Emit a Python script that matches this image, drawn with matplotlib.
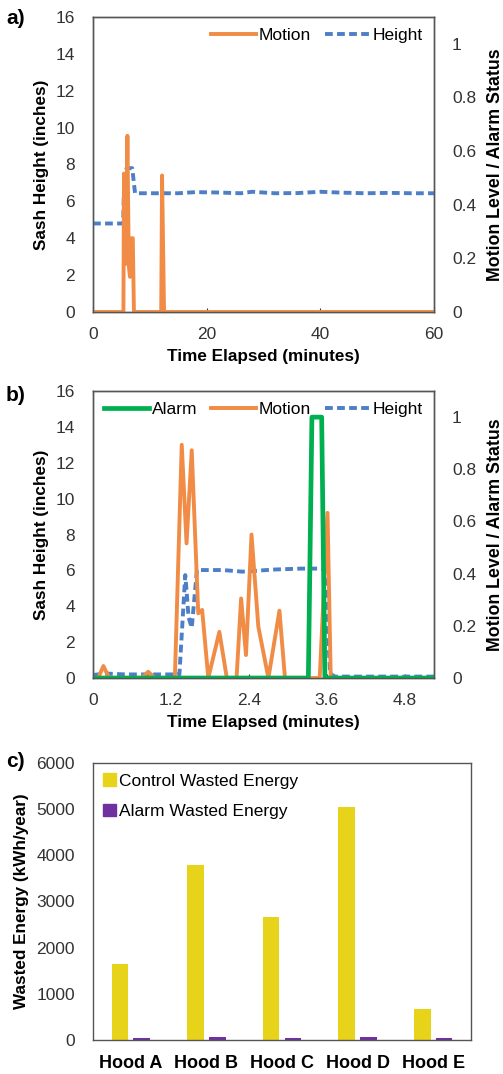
import matplotlib.pyplot as plt
from matplotlib.patches import Patch

plt.rcParams['font.family'] = ['Liberation Sans', 'DejaVu Sans']

# panel a - 60 minute record
height_a_t = [0, 5.3, 5.5, 5.9, 6.9, 7.4, 10, 15, 18, 22, 26, 28, 32, 36, 40, 44, 48, 52, 56, 60]
height_a_v = [4.8, 4.8, 7.3, 7.8, 7.8, 6.44, 6.44, 6.44, 6.5, 6.48, 6.44, 6.52, 6.44, 6.45, 6.52, 6.47, 6.44, 6.46, 6.44, 6.44]
motion_a_t = [0, 5.35, 5.45, 5.8, 6.05, 6.3, 6.5, 6.75, 7.0, 7.2, 12.0, 12.15, 12.5, 60]
motion_a_v = [0, 0, 0.516, 0.18, 0.657, 0.172, 0.131, 0.275, 0.275, 0, 0, 0.509, 0, 0]

# panel b - 5 minute record
height_b_t = [0, 0.2, 0.5, 1.0, 1.3, 1.33, 1.42, 1.44, 1.47, 1.52, 1.6, 2.0, 2.3, 2.8, 3.2, 3.5, 3.57, 3.65, 3.72, 5.25]
height_b_v = [0.17, 0.25, 0.2, 0.2, 0.2, 0.2, 5.74, 4.9, 3.4, 2.8, 6.02, 6.02, 5.93, 6.05, 6.1, 6.1, 6.05, 0.26, 0.08, 0.08]
motion_b_t = [0, 0.08, 0.16, 0.25, 0.75, 0.85, 0.95, 1.26, 1.366, 1.44, 1.52, 1.62, 1.68, 1.775, 1.945, 2.06, 2.21,
              2.28, 2.355, 2.44, 2.545, 2.70, 2.87, 2.955, 3.49, 3.61, 3.66, 5.25]
motion_b_v = [0, 0, 0.046, 0, 0, 0.024, 0, 0, 0.894, 0.516, 0.873, 0.248, 0.261, 0, 0.177, 0, 0,
              0.305, 0.088, 0.55, 0.197, 0, 0.258, 0, 0, 0.633, 0, 0]
alarm_b_t = [0, 3.315, 3.37, 3.52, 3.57, 5.25]
alarm_b_v = [0, 0, 1, 1, 0, 0]

# panel c - wasted energy
hoods = ['Hood A', 'Hood B', 'Hood C', 'Hood D', 'Hood E']
control_energy = [1650, 3790, 2660, 5050, 660]
alarm_energy = [45, 70, 45, 70, 48]

ORANGE = '#F08C45'
BLUE = '#4E7FC6'
GREEN = '#00B050'
YELLOW = '#E8D31B'
PURPLE = '#7030A0'
FRAME = '#555555'
TICK = '#333333'

fig = plt.figure(figsize=(5.03, 10.74), dpi=100)

def style_frame(ax):
    for s in ax.spines.values():
        s.set_color(FRAME)
        s.set_linewidth(1.0)

def line_panel(rect, xmax, xticks, xticklabels):
    ax = fig.add_axes(rect)
    ax2 = ax.twinx()
    ax.set_xlim(0, xmax)
    ax.set_ylim(0, 16)
    ax.set_yticks(range(0, 17, 2))
    ax.set_xticks(xticks)
    ax.set_xticklabels(xticklabels)
    ax2.set_ylim(0, 1.1)
    ax2.set_yticks([0, 0.2, 0.4, 0.6, 0.8, 1.0])
    ax2.set_yticklabels(['0', '0.2', '0.4', '0.6', '0.8', '1'])
    ax.tick_params(axis='y', length=0, labelsize=12.5, colors=TICK, pad=13)
    ax.tick_params(axis='x', length=3, direction='in', labelsize=12.5, colors=TICK, pad=11)
    ax2.tick_params(axis='y', length=0, labelsize=12.5, colors=TICK, pad=13)
    ax.set_ylabel('Sash Height (inches)', fontsize=12.3, fontweight='bold', labelpad=5)
    ax2.set_ylabel('Motion Level / Alarm Status', fontsize=12.8, fontweight='bold', labelpad=8)
    ax.set_xlabel('Time Elapsed (minutes)', fontsize=12.3, fontweight='bold', labelpad=5)
    style_frame(ax)
    style_frame(ax2)
    return ax, ax2

# a)
ax, ax2 = line_panel([0.1849, 0.7095, 0.678, 0.2747], 60, [0, 20, 40, 60], ['0', '20', '40', '60'])
h1, = ax.plot(height_a_t, height_a_v, color=BLUE, lw=2.8, ls=(0, (2.0, 1.1)), zorder=3)
m1, = ax2.plot(motion_a_t, motion_a_v, color=ORANGE, lw=2.8, zorder=2)
ax2.legend([m1, h1], ['Motion', 'Height'], loc='upper right', ncol=2, frameon=False,
           fontsize=12.5, handlelength=2.6, handletextpad=0.15, columnspacing=0.8,
           borderaxespad=0.25)
fig.text(0.012, 0.983, 'a)', fontsize=15, fontweight='bold', va='center')

# b)
ax, ax2 = line_panel([0.1849, 0.3687, 0.678, 0.2672], 5.25, [0, 1.2, 2.4, 3.6, 4.8],
                     ['0', '1.2', '2.4', '3.6', '4.8'])
h2, = ax.plot(height_b_t, height_b_v, color=BLUE, lw=2.8, ls=(0, (2.0, 1.1)), zorder=3)
m2, = ax2.plot(motion_b_t, motion_b_v, color=ORANGE, lw=2.8, zorder=2)
a2, = ax2.plot(alarm_b_t, alarm_b_v, color=GREEN, lw=3.4, zorder=2)
ax2.legend([a2, m2, h2], ['Alarm', 'Motion', 'Height'], loc='upper center', ncol=3, frameon=False,
           fontsize=12.5, handlelength=2.6, handletextpad=0.15, columnspacing=0.8,
           borderaxespad=0.25)
fig.text(0.012, 0.632, 'b)', fontsize=15, fontweight='bold', va='center')

# c)
axc = fig.add_axes([0.1849, 0.0317, 0.7515, 0.2579])
x = list(range(len(hoods)))
w = 0.22
axc.bar([i - 0.145 for i in x], control_energy, width=w, color=YELLOW, label='Control Wasted Energy')
axc.bar([i + 0.145 for i in x], alarm_energy, width=w, color=PURPLE, label='Alarm Wasted Energy')
axc.set_xlim(-0.5, 4.5)
axc.set_ylim(0, 6000)
axc.set_yticks(range(0, 6001, 1000))
axc.set_xticks(x)
axc.set_xticklabels(hoods, fontweight='bold')
axc.tick_params(axis='y', length=0, labelsize=12.5, colors=TICK, pad=13)
axc.tick_params(axis='x', length=0, labelsize=13, pad=11)
axc.set_ylabel('Wasted Energy (kWh/year)', fontsize=12.3, fontweight='bold', labelpad=5)
style_frame(axc)
handles = [Patch(color=YELLOW), Patch(color=PURPLE)]
axc.legend(handles, ['Control Wasted Energy', 'Alarm Wasted Energy'], loc='upper left',
           frameon=False, fontsize=12.5, handlelength=0.7, handleheight=0.7, handletextpad=0.2,
           labelspacing=0.9, borderaxespad=0.2)
fig.text(0.012, 0.291, 'c)', fontsize=15, fontweight='bold', va='center')

fig.savefig('out.png', dpi=100)
